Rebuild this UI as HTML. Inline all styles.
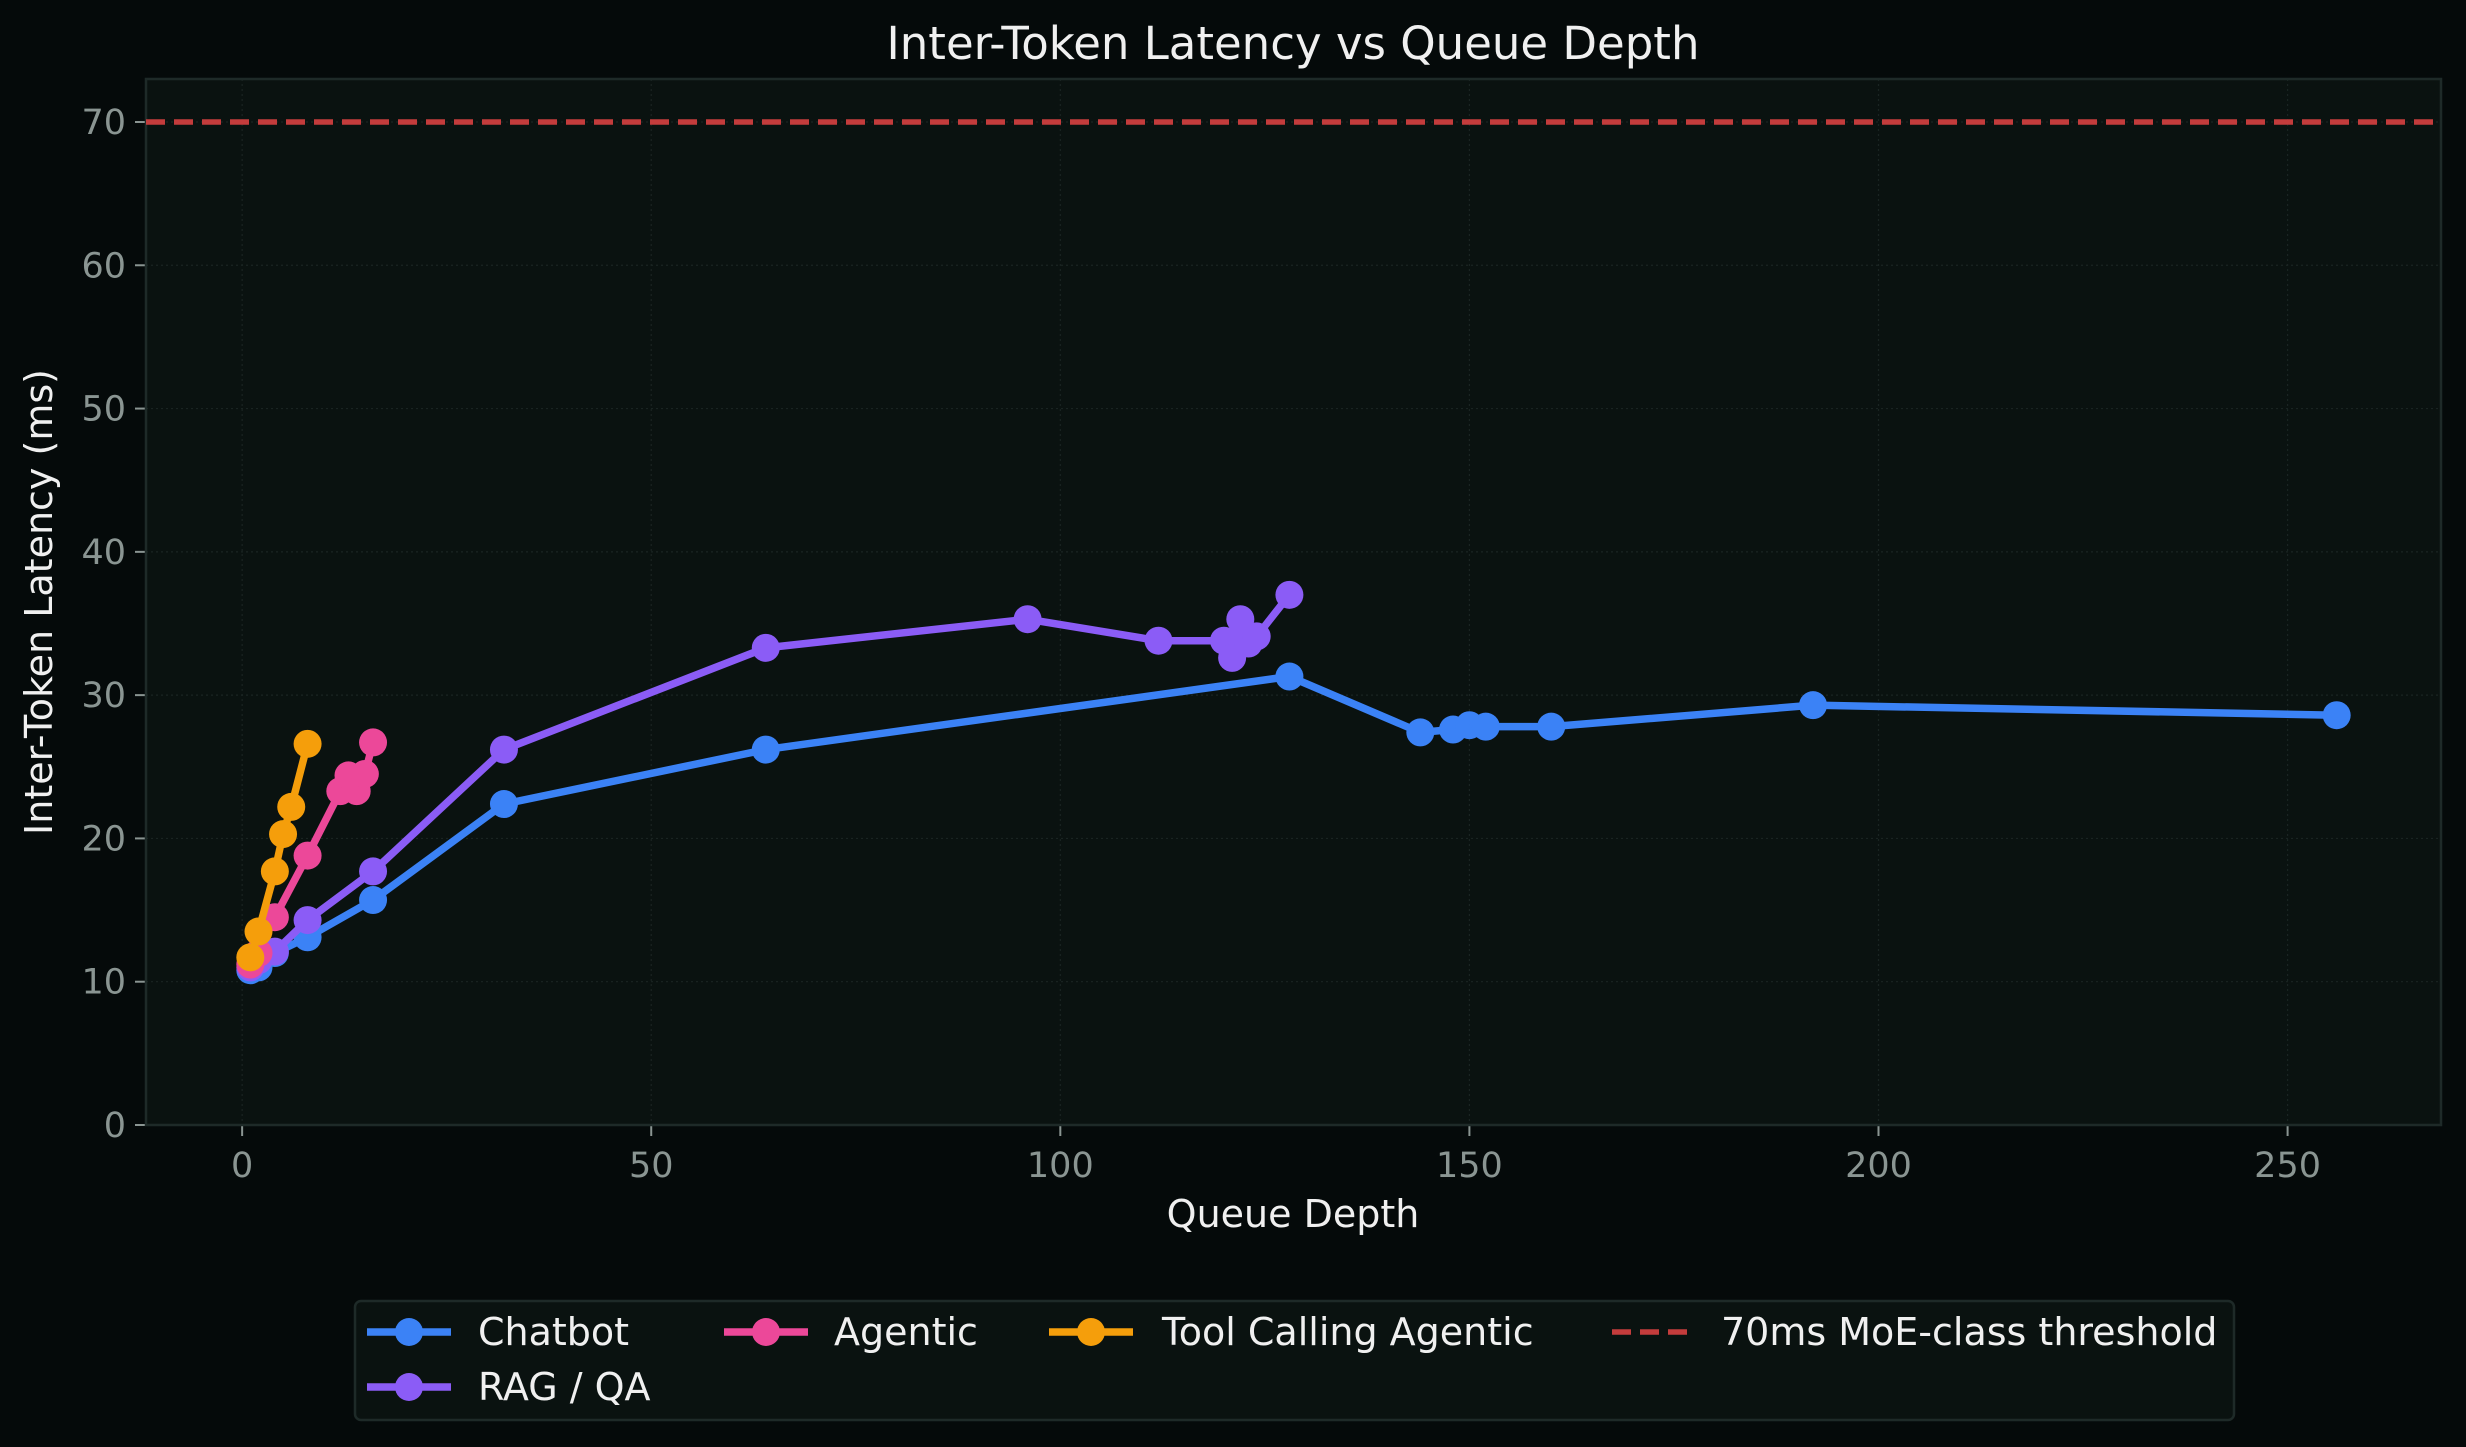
<!DOCTYPE html>
<html><head><meta charset="utf-8"><style>
html,body{margin:0;padding:0;background:#050a0a;}
svg{display:block;font-family:"DejaVu Sans","Liberation Sans",sans-serif;}
</style></head><body>
<svg id="chart" width="2466" height="1447" viewBox="0 0 2466 1447" xmlns="http://www.w3.org/2000/svg">
<rect width="2466" height="1447" fill="#050a0a"/>
<rect x="146" y="79" width="2295" height="1046" fill="#0a1210"/>
<g id="grid"></g>
<g id="axes"></g>
<g id="series"></g>
<text x="1293" y="59" fill="#f0f0f0" font-size="45" text-anchor="middle">Inter-Token Latency vs Queue Depth</text>
<text x="1293" y="1227" fill="#f0f0f0" font-size="38" text-anchor="middle">Queue Depth</text>
<text transform="translate(52,602) rotate(-90)" fill="#f0f0f0" font-size="38" text-anchor="middle">Inter-Token Latency (ms)</text>
<g id="legend">
<rect x="355" y="1301" width="1879" height="119" rx="6" fill="#0a1210" stroke="#1e2a28" stroke-width="2.5"/>
</g>
</svg>
<script>
const categories = ["Chatbot","RAG / QA","Agentic","Tool Calling Agentic"];
const chatbotX = [1,2,4,8,16,32,64,128,144,148,150,152,160,192,256];
const chatbotY = [10.8,11.0,12.0,13.1,15.7,22.4,26.2,31.3,27.4,27.6,27.9,27.8,27.8,29.3,28.6];
const ragX = [1,2,4,8,16,32,64,96,112,120,121,122,123,124,128];
const ragY = [11.0,11.5,12.1,14.3,17.7,26.2,33.3,35.3,33.8,33.8,32.6,35.3,33.6,34.1,37.0];
const agenticX = [1,2,4,8,12,13,14,15,16];
const agenticY = [11.2,12.0,14.5,18.8,23.3,24.4,23.3,24.5,26.7];
const toolX = [1,2,4,5,6,8];
const toolY = [11.7,13.5,17.7,20.3,22.2,26.6];
const threshold = 70;
const xTicks = [0,50,100,150,200,250];
const yTicks = [0,10,20,30,40,50,60,70];

const L=146,R=2441,T=79,B=1125,xmin=-11.75,xmax=268.75,ymin=0,ymax=73;
const sx=v=>L+(v-xmin)/(xmax-xmin)*(R-L);
const sy=v=>B-(v-ymin)/(ymax-ymin)*(B-T);
const NS="http://www.w3.org/2000/svg";
function mk(tag,attrs,parent){const e=document.createElementNS(NS,tag);for(const k in attrs)e.setAttribute(k,attrs[k]);parent.appendChild(e);return e;}
const grid=document.getElementById('grid'),axes=document.getElementById('axes'),series=document.getElementById('series'),legend=document.getElementById('legend');

xTicks.forEach(t=>{
  const g=mk('line',{x1:sx(t),x2:sx(t),y1:T,y2:B,stroke:'#1a2422','stroke-width':1.2,'stroke-dasharray':'2,3'},grid);
  
  
  const tk=mk('line',{x1:sx(t),x2:sx(t),y1:B,y2:B+11,stroke:'#8a9592','stroke-width':2},axes);
  
  
  const tx=mk('text',{x:sx(t),y:B+52,fill:'#8a9592','font-size':35,'text-anchor':'middle'},axes);
  tx.textContent=t;
  
  
});
yTicks.forEach(t=>{
  const g=mk('line',{x1:L,x2:R,y1:sy(t),y2:sy(t),stroke:'#1a2422','stroke-width':1.2,'stroke-dasharray':'2,3'},grid);
  
  
  const tk=mk('line',{x1:L-11,x2:L,y1:sy(t),y2:sy(t),stroke:'#8a9592','stroke-width':2},axes);
  
  
  const tx=mk('text',{x:L-20,y:sy(t)+12,fill:'#8a9592','font-size':35,'text-anchor':'end'},axes);
  tx.textContent=t;
  
  
});
const frame=mk('rect',{x:L,y:T,width:R-L,height:B-T,fill:'none',stroke:'#1e2a28','stroke-width':2.5},axes);



const th=mk('line',{x1:L,x2:R,y1:sy(threshold),y2:sy(threshold),stroke:'#c43c3c','stroke-width':5.5,'stroke-dasharray':'19,9'},series);



const defs=[[chatbotX,chatbotY,'#3b82f6','chatbot'],[ragX,ragY,'#8b5cf6','rag-qa'],[agenticX,agenticY,'#ec4899','agentic'],[toolX,toolY,'#f59e0b','tool-calling-agentic']];
defs.forEach(([xs,ys,c,n])=>{
  const g=mk('g',{},series);
  
  
  const p=mk('polyline',{points:xs.map((x,i)=>sx(x)+','+sy(ys[i])).join(' '),fill:'none',stroke:c,'stroke-width':7.5,'stroke-linejoin':'round'},g);
  
  
  xs.forEach((x,i)=>{
    const m=mk('circle',{cx:sx(x),cy:sy(ys[i]),r:14,fill:c},g);
    
    
  });
});

const leg=[[367,1332,478,'#3b82f6',categories[0],false],[724,1332,834,'#ec4899',categories[2],false],[1049,1332,1162,'#f59e0b',categories[3],false],[1612,1332,1721,'#c43c3c','70ms MoE-class threshold',true],[367,1387,478,'#8b5cf6',categories[1],false]];
leg.forEach(([hx,y,tx,c,label,dash])=>{
  const g=mk('g',{},legend);
  
  
  if(dash){
    mk('line',{x1:hx,x2:hx+80,y1:y,y2:y,stroke:c,'stroke-width':5.5,'stroke-dasharray':'19,9'},g);
  }else{
    mk('line',{x1:hx,x2:hx+84,y1:y,y2:y,stroke:c,'stroke-width':7.5},g);
    mk('circle',{cx:hx+42,cy:y,r:14,fill:c},g);
  }
  const t=mk('text',{x:tx,y:y+13,fill:'#f0f0f0','font-size':38},g);
  t.textContent=label;
});
</script>
</body></html>
